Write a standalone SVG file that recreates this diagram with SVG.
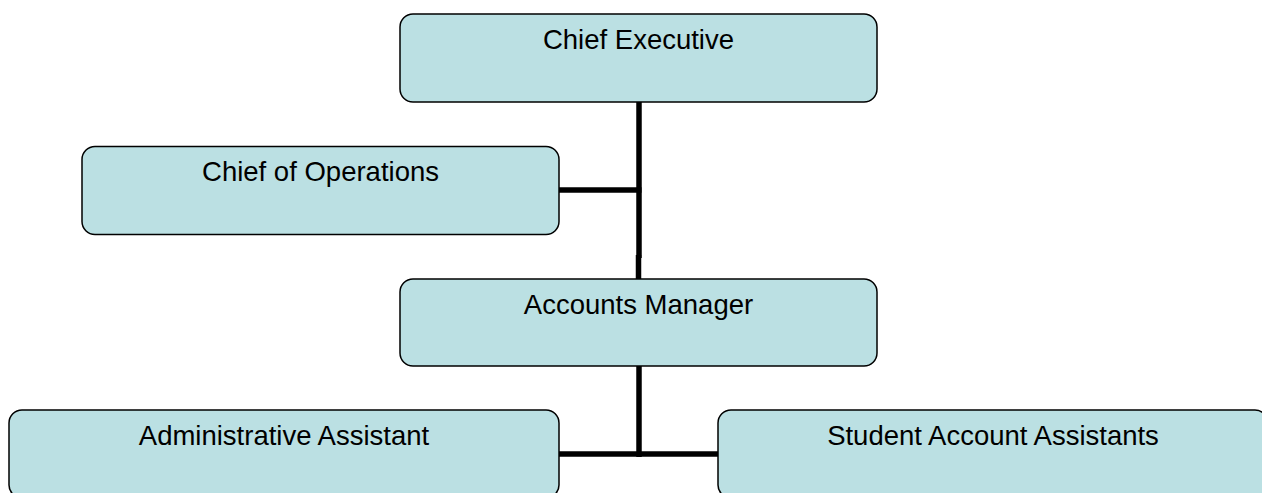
<svg xmlns="http://www.w3.org/2000/svg" width="1262" height="493" viewBox="0 0 1262 493">
  <style>
    .box { fill: #BBE0E3; stroke: #000; stroke-width: 1.5; }
    .label { font-family: "Liberation Sans", Arial, sans-serif; font-size: 27.5px; fill: #000; text-anchor: middle; }
    .link { stroke: #000; stroke-width: 5.5; fill: none; stroke-linecap: butt; }
  </style>

  <!-- reporting lines -->
  <g id="connectors">
    <path class="link" d="M639 102 V258"/>
    <path class="link" d="M638.5 255 V279"/>
    <path class="link" d="M559 190 H641.5"/>
    <path class="link" d="M639 366 V457"/>
    <path class="link" d="M559 454 H718"/>
  </g>

  <g id="chief-executive">
    <rect class="box" x="400" y="14" width="477" height="88" rx="13" ry="13"/>
    <text class="label" x="638.5" y="49">Chief Executive</text>
  </g>

  <g id="chief-of-operations">
    <rect class="box" x="82" y="146.5" width="477" height="88" rx="13" ry="13"/>
    <text class="label" x="320.5" y="181">Chief of Operations</text>
  </g>

  <g id="accounts-manager">
    <rect class="box" x="400" y="279" width="477" height="87" rx="13" ry="13"/>
    <text class="label" x="638.5" y="314">Accounts Manager</text>
  </g>

  <g id="administrative-assistant">
    <rect class="box" x="9" y="410" width="550" height="88" rx="13" ry="13"/>
    <text class="label" x="284" y="445">Administrative Assistant</text>
  </g>

  <g id="student-account-assistants">
    <rect class="box" x="718" y="410" width="550" height="88" rx="13" ry="13"/>
    <text class="label" x="993" y="445">Student Account Assistants</text>
  </g>
</svg>
